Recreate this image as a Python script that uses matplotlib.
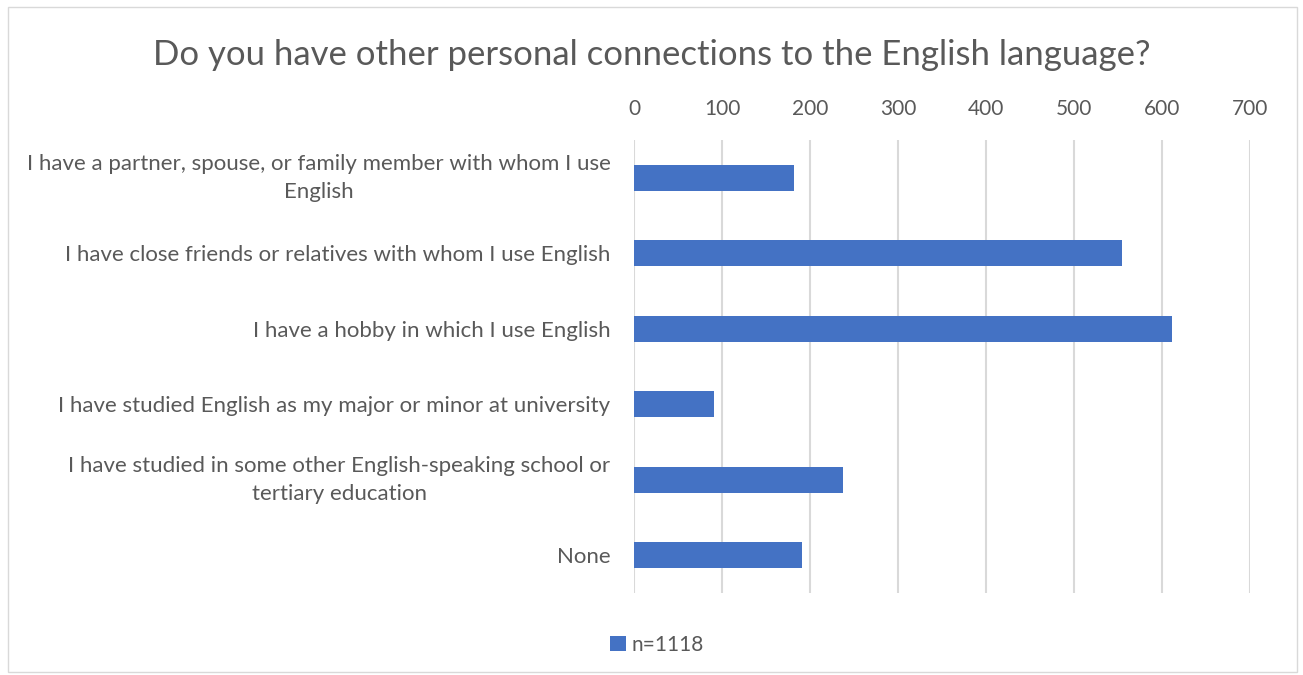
import matplotlib
matplotlib.use("Agg")
import matplotlib.pyplot as plt
from matplotlib.patches import Rectangle

# survey responses, top to bottom as listed
categories = [
    "I have a partner, spouse, or family member with whom I use\nEnglish",
    "I have close friends or relatives with whom I use English",
    "I have a hobby in which I use English",
    "I have studied English as my major or minor at university",
    "I have studied in some other English-speaking school or\ntertiary education",
    "None",
]
counts = [182, 555, 611, 91, 237, 191]
xticks = [0, 100, 200, 300, 400, 500, 600, 700]
series_label = "n=1118"
title = "Do you have other personal connections to the English language?"

BLUE = "#4472c4"; TXT = "#595959"; GRID = "#d9d9d9"
plt.rcParams["font.family"] = ["Lato", "DejaVu Sans"]

fig = plt.figure(figsize=(13.03, 6.75), dpi=100)
ax = fig.add_axes([634/1303, 1 - 593/675, 616/1303, 453/675])

ypos = list(range(len(categories)))
ax.barh(ypos, counts, height=0.345, color=BLUE, label=series_label, zorder=3)
ax.set_ylim(len(categories) - 0.5, -0.5)
ax.set_xlim(0, 700)
ax.set_xticks(xticks)
ax.set_yticks(ypos)
ax.set_yticklabels(categories, fontsize=16, color=TXT, ha="right",
                   multialignment="center", linespacing=1.5)
# wrapped labels sit centred on their bar as a block
for lbl in ax.get_yticklabels():
    if "\n" in lbl.get_text():
        lbl.set_va("center")
ax.xaxis.tick_top()
ax.tick_params(axis="x", length=0, labelsize=15, labelcolor=TXT, pad=15)
ax.tick_params(axis="y", length=0, pad=17)
ax.grid(axis="x", color=GRID, linewidth=1.5, zorder=0)
for s in ax.spines.values():
    s.set_visible(False)

fig.text(0.5, 1 - 55/675, title, ha="center", va="center", fontsize=25, color=TXT)
fig.legend(loc="center", bbox_to_anchor=(657/1303, 1 - 645/675), frameon=False,
           fontsize=15, labelcolor=TXT, handlelength=0.75, handleheight=0.75,
           handletextpad=0.3)
fig.add_artist(Rectangle((8/1303, 3/675), 1289/1303, 665/675, transform=fig.transFigure,
                         fill=False, edgecolor=GRID, linewidth=1))

fig.savefig("out.png", dpi=100)
